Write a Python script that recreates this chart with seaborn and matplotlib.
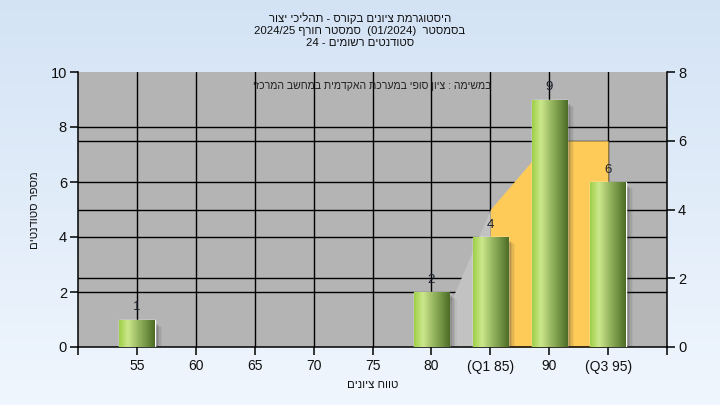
import numpy as np
import pandas as pd
import matplotlib
matplotlib.use("Agg")
import matplotlib.pyplot as plt
import matplotlib.transforms as mtransforms
from matplotlib.patches import Rectangle
import seaborn as sns

# ---------------- data ----------------
categories = ["55", "60", "65", "70", "75", "80", "(Q1 85)", "90", "(Q3 95)"]
counts = [1, 0, 0, 0, 0, 2, 4, 9, 6]
# area series (right axis units) for grades 80, 85, 90, 95
area_positions = [5, 6, 7, 8]
area_values = [0, 4, 6, 6]
left_ticks = [0, 2, 4, 6, 8, 10]
right_ticks = [0, 2, 4, 6, 8]

title_lines = [
    "היסטוגרמת ציונים בקורס - תהליכי יצור",
    "בסמסטר  (01/2024)  סמסטר חורף 2024/25",
    "סטודנטים רשומים - 24",
]
note_text = "במשימה : ציון סופי במערכת האקדמית במחשב המרכזי"
xlabel_text = "טווח ציונים"
ylabel_text = "מספר סטודנטים"


def vis(s):
    """Small bidi helper: RTL paragraph, keeps digit/latin runs LTR."""
    import re
    tokens = re.findall(r"[A-Za-z0-9/]+(?:[ ./][A-Za-z0-9/]+)*|[^A-Za-z0-9/]", s)
    mirror = {"(": ")", ")": "("}
    res = []
    for t in reversed(tokens):
        if len(t) == 1 and not t.isalnum():
            res.append(mirror.get(t, t))
        else:
            res.append(t)
    return "".join(res)


sns.set_theme(style="white")
plt.rcParams["font.family"] = ["Liberation Sans", "DejaVu Sans"]

fig = plt.figure(figsize=(7.2, 4.05), dpi=100)

# background gradient
bg = fig.add_axes([0, 0, 1, 1], zorder=-10)
grad = np.linspace(0, 1, 256).reshape(-1, 1)
top_c = np.array([0.83, 0.89, 0.96])
bot_c = np.array([0.94, 0.965, 0.995])
img = top_c[None, None, :] * (1 - grad[:, :, None]) + bot_c[None, None, :] * grad[:, :, None]
bg.imshow(img, aspect="auto", extent=[0, 1, 0, 1], origin="upper")
bg.axis("off")

L, R, B, T = 78 / 720, 667 / 720, 58 / 405, 333 / 405
ax = fig.add_axes([L, B, R - L, T - B])
ax.set_facecolor("#b4b4b4")

df = pd.DataFrame({"grade": categories, "count": counts})
sns.barplot(data=df, x="grade", y="count", ax=ax, width=0.6, color="#9cc84a",
            saturation=1, zorder=5)

ax.set_xlim(-1, 9)
ax.set_ylim(0, 10)

ax2 = ax.twinx()
ax2.set_ylim(0, 8)
factor = ax.get_ylim()[1] / ax2.get_ylim()[1]

# gridlines
glw = 1.0
for v in left_ticks[1:-1]:
    ax.axhline(v, color="black", lw=glw, zorder=1)
for v in right_ticks[1:-1]:
    ax.axhline(v * factor, color="black", lw=glw, zorder=1)
for i in range(0, 9):
    ax.axvline(i, color="black", lw=glw, zorder=1)

# area series
xs = np.array(area_positions, dtype=float)
ys = np.array(area_values, dtype=float) * factor
ax.fill_between(xs[:2], 0, ys[:2], color="#c2c2c2", lw=0, zorder=2)
ax.fill_between(xs[1:], 0, ys[1:], color="#fecb58", lw=0, zorder=2)

# cylinder gradient bars with shadow
cmap = matplotlib.colors.LinearSegmentedColormap.from_list(
    "cyl",
    [(0.0, (0.62, 0.81, 0.28)), (0.25, (0.80, 0.91, 0.55)),
     (0.5, (0.62, 0.74, 0.40)), (0.8, (0.43, 0.56, 0.25)), (1.0, (0.30, 0.42, 0.15))])
gimg = np.linspace(0, 1, 128).reshape(1, -1)
for p, v in zip(ax.patches, counts):
    if v <= 0:
        p.set_visible(False)
        continue
    x0, w, h = p.get_x(), p.get_width(), p.get_height()
    for k, a in enumerate([0.20, 0.15, 0.11, 0.08, 0.05]):
        off = mtransforms.offset_copy(ax.transData, fig=fig, x=1.5 + k * 1.5, y=-3 - k, units="dots")
        sh = Rectangle((x0, 0), w, h, transform=off, facecolor="#303030", alpha=a, lw=0, zorder=3)
        ax.add_patch(sh)
    p.set_zorder(4)
    im = ax.imshow(gimg, cmap=cmap, aspect="auto", extent=[x0, x0 + w, 0, h], zorder=5,
                   interpolation="bilinear")
    im.set_clip_path(p)
    ax.text(x0 + w / 2, h + 0.22, str(v), ha="center", va="bottom", fontsize=9.5,
            color="#1c2230", zorder=6)
ax.set_xlim(-1, 9)
ax.set_ylim(0, 10)

# axes styling
ax.spines["top"].set_visible(False)
ax2.spines["top"].set_visible(False)
for a in (ax, ax2):
    for s in ["left", "bottom", "right"]:
        a.spines[s].set_color("black")
        a.spines[s].set_linewidth(1.1)
ax.spines["right"].set_visible(False)
ax2.spines["left"].set_visible(False)
ax2.spines["bottom"].set_visible(False)

ax.set_xticks(range(-1, 10))
ax.set_xticklabels([""] + categories + [""])
ax.set_yticks(left_ticks)
ax.set_yticklabels([str(t) for t in left_ticks])
ax2.set_yticks(right_ticks)
ax2.set_yticklabels([str(t) for t in right_ticks])
ax.tick_params(axis="both", direction="out", length=6, width=1.1, color="black",
               labelsize=10.5, labelcolor="#101010", pad=2, left=True, bottom=True)
ax.tick_params(axis="x", labelsize=10, pad=3)
ax2.tick_params(axis="y", direction="out", length=6, width=1.1, color="black",
                labelsize=10.5, labelcolor="#101010", pad=2, right=True)
ax.set_xlabel("")
ax.set_ylabel("")
ax.grid(False)
ax2.grid(False)

# texts
for i, line in enumerate(title_lines):
    fig.text(0.5, 1 - (18 + 12.5 * i) / 405, vis(line), ha="center", va="center",
             fontsize=8.2, color="#101010")
ax.text(0.5, 1 - 14 / 275, vis(note_text), transform=ax.transAxes, ha="center",
        va="center", fontsize=7.6, color="#202020", zorder=7)
fig.text(373 / 720, 1 - 385 / 405, vis(xlabel_text), ha="center", va="center",
         fontsize=8.2, color="#101010")
fig.text(35 / 720, 1 - 210 / 405, vis(ylabel_text), ha="center", va="center",
         rotation=90, fontsize=8.2, color="#101010")

fig.savefig("out.png", dpi=100)
